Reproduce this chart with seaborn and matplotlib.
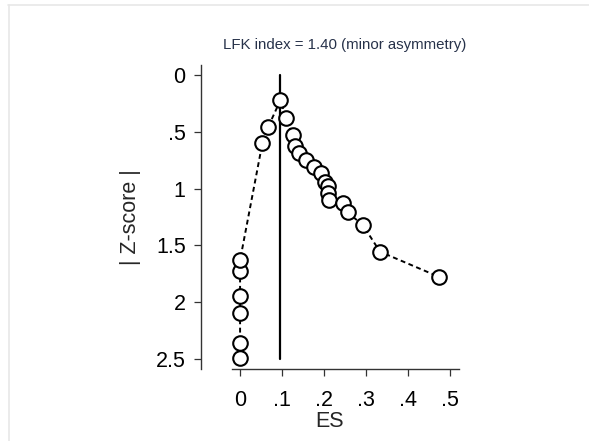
import matplotlib
matplotlib.use("Agg")
import matplotlib.pyplot as plt
from matplotlib.lines import Line2D
import seaborn as sns
import pandas as pd

# Effect sizes and absolute Z-scores, in plotting order (ES ascending)
es = [0.0, 0.0, 0.0, 0.0, 0.0, 0.0,
      0.053, 0.067, 0.096, 0.110, 0.125, 0.131, 0.141, 0.157, 0.175,
      0.193, 0.202, 0.209, 0.210, 0.212, 0.245, 0.256, 0.292, 0.333, 0.473]
zscore = [2.49, 2.36, 2.10, 1.95, 1.73, 1.63,
          0.60, 0.455, 0.22, 0.38, 0.53, 0.62, 0.69, 0.75, 0.81,
          0.86, 0.94, 0.98, 1.04, 1.10, 1.13, 1.21, 1.32, 1.556, 1.777]

xticks = [0, 0.1, 0.2, 0.3, 0.4, 0.5]
xticklabels = ["0", ".1", ".2", ".3", ".4", ".5"]
yticks = [0, 0.5, 1, 1.5, 2, 2.5]
yticklabels = ["0", ".5", "1", "1.5", "2", "2.5"]
title = "LFK index = 1.40 (minor asymmetry)"

df = pd.DataFrame({"ES": es, "Z": zscore})

sns.set_style("white")
plt.rcParams["font.family"] = ["Liberation Sans", "DejaVu Sans"]

fig = plt.figure(figsize=(5.89, 4.41), dpi=100)
ax = fig.add_axes([201 / 589, 1 - 369 / 441, (459 - 201) / 589, (369 - 65) / 441])

# vertical reference line at the ES of the point with the smallest |Z|
peak = df.loc[df["Z"].idxmin(), "ES"]
ax.plot([peak, peak], [0, 2.5], color="black", lw=1.6, zorder=1)

sns.lineplot(data=df, x="ES", y="Z", sort=False, estimator=None, ax=ax,
             color="black", lw=1.4, linestyle=(0, (2.5, 1.8)), zorder=2)
sns.scatterplot(data=df, x="ES", y="Z", ax=ax, s=110, marker="o",
                facecolor="white", edgecolor="black", linewidth=1.5, zorder=3)

ax.set_xlim(-0.093, 0.521)
ax.set_ylim(2.59, -0.09)

for side in ["top", "right"]:
    ax.spines[side].set_visible(False)
for side in ["left", "bottom"]:
    ax.spines[side].set_color("#333333")
    ax.spines[side].set_linewidth(1.0)
ax.spines["bottom"].set_bounds(-0.019, 0.521)

ax.set_xticks(xticks)
ax.set_xticklabels(xticklabels)
ax.set_yticks(yticks)
ax.set_yticklabels(yticklabels)
ax.tick_params(axis="both", direction="out", length=5, width=0.9,
               color="#333333", labelsize=15.5, labelcolor="black", pad=6,
               bottom=True, left=True)
ax.tick_params(axis="x", pad=10)

ax.set_xlabel("ES", fontsize=15.5, labelpad=0)
ax.set_ylabel("| Z-score |", fontsize=15.5, labelpad=11)
fig.text(345 / 589, 1 - 45 / 441, title, ha="center", va="center",
         fontsize=10.8, color="#27324a")

# faint frame around the canvas
fig.add_artist(Line2D([8 / 589, 1], [1 - 4.5 / 441, 1 - 4.5 / 441],
                      transform=fig.transFigure, color="#e8e8e8", lw=1.2))
fig.add_artist(Line2D([8.5 / 589, 8.5 / 589], [0, 1 - 4.5 / 441],
                      transform=fig.transFigure, color="#e8e8e8", lw=1.2))

fig.savefig("out.png", dpi=100, facecolor="white")
